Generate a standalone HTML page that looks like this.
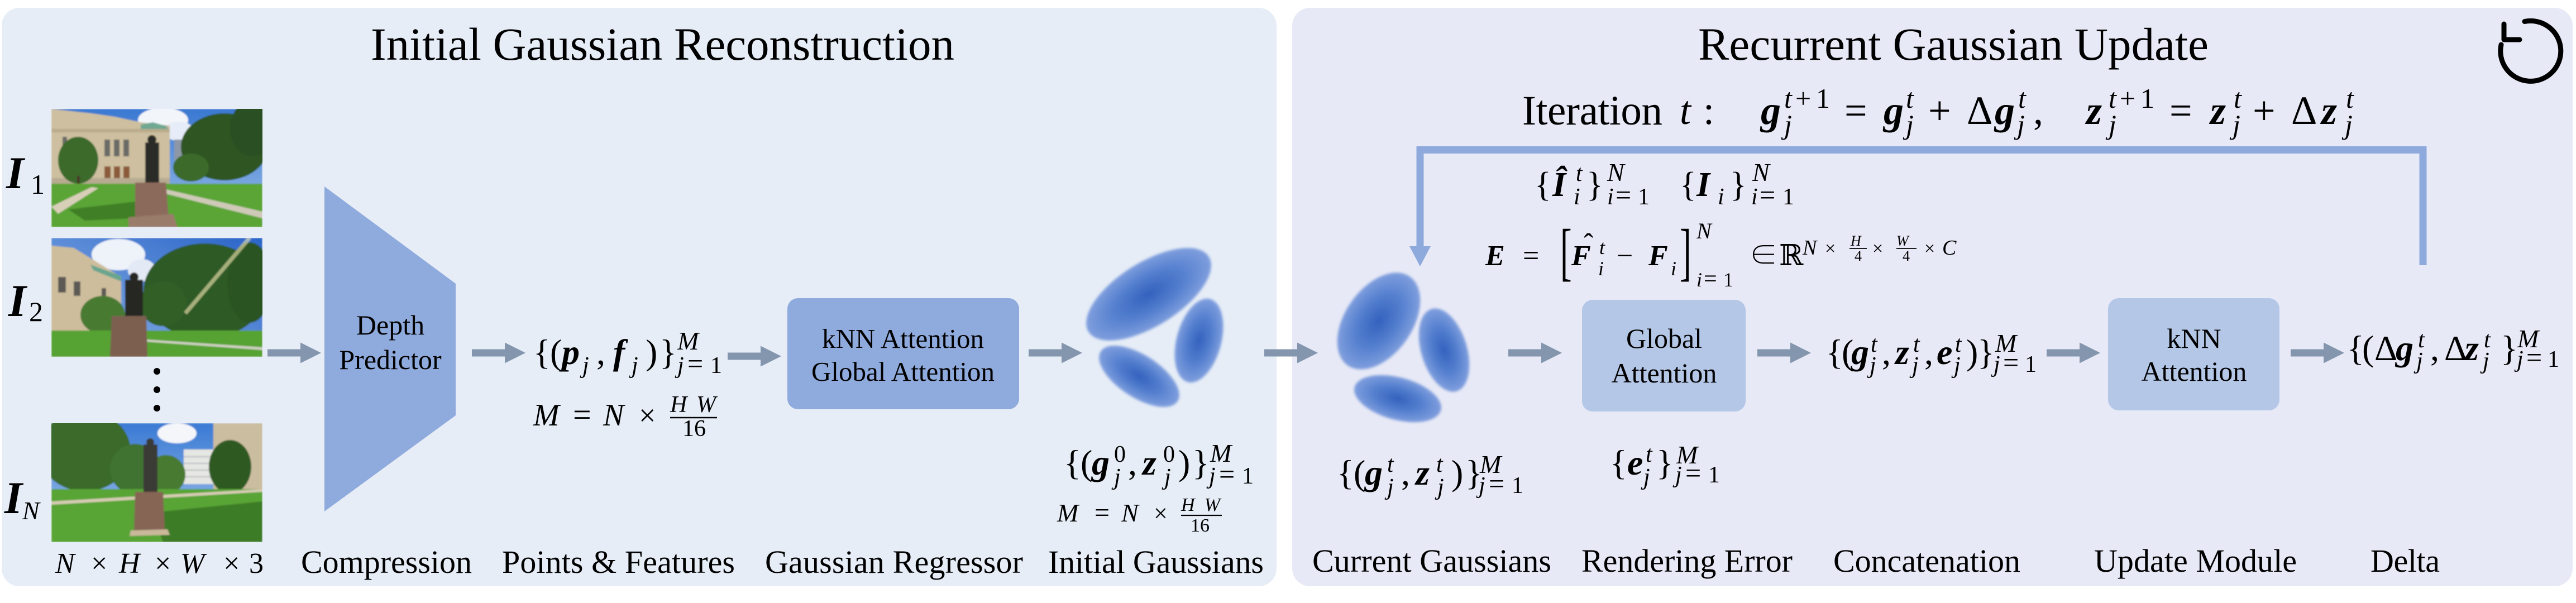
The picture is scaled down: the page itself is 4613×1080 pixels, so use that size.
<!DOCTYPE html>
<html><head><meta charset="utf-8"><style>
html,body{margin:0;padding:0;background:#fff;}
svg{display:block;}
svg text{font-family:"Liberation Serif","Noto Serif CJK SC","DejaVu Serif","Times New Roman",serif;fill:#000;}
.bi{font-weight:bold;font-style:italic;}
.it{font-style:italic;}
</style></head><body>
<svg width="4613" height="1080" viewBox="0 0 4613 1080" xmlns="http://www.w3.org/2000/svg" font-family="'Liberation Serif', 'Noto Serif CJK SC', 'DejaVu Serif', serif">
<defs>
<radialGradient id="gb"><stop offset="0" stop-color="#3361bd"/><stop offset="0.55" stop-color="#5580cf"/><stop offset="1" stop-color="#7f9edd"/></radialGradient>
<filter id="soft" x="-10%" y="-10%" width="120%" height="120%"><feGaussianBlur stdDeviation="2.5"/></filter>
<filter id="ph" x="0" y="0" width="100%" height="100%"><feGaussianBlur stdDeviation="1.2"/></filter>
<linearGradient id="sky1" x1="0" y1="0" x2="0" y2="1"><stop offset="0" stop-color="#3a78d2"/><stop offset="1" stop-color="#9cc0ea"/></linearGradient>
<linearGradient id="sky2" x1="1" y1="0" x2="0" y2="1"><stop offset="0" stop-color="#2a64c8"/><stop offset="1" stop-color="#8fb6e8"/></linearGradient>
<linearGradient id="sky3" x1="0" y1="0" x2="0" y2="1"><stop offset="0" stop-color="#3a7ad4"/><stop offset="1" stop-color="#a8c8ee"/></linearGradient>
<path id="ar" d="M0,-6.5 H59 V-18.5 L96,0 L59,18.5 V6.5 H0 Z" fill="#8496ae"/>
</defs>
<rect width="4613" height="1080" fill="#fff"/>
<rect x="3" y="14" width="2283" height="1036" rx="32" fill="#e6edf7"/>
<rect x="2314" y="14" width="2293" height="1036" rx="32" fill="#e7e9f6"/>

<!-- Titles -->
<text x="664" y="107" font-size="83" textLength="1045" lengthAdjust="spacing">Initial Gaussian Reconstruction</text>
<text x="3041" y="107" font-size="83" textLength="914" lengthAdjust="spacing">Recurrent Gaussian Update</text>

<!-- refresh icon -->
<g stroke="#000" stroke-width="9" fill="none" stroke-linecap="round" stroke-linejoin="round">
<path d="M4521 38.5 A54 54 0 1 1 4479 80"/>
<polyline points="4484,43 4484,71 4512,71"/>
</g>

<!-- Photos -->
<svg x="92" y="195" width="378" height="212" viewBox="0 0 378 212">
<g filter="url(#ph)">
<rect width="378" height="212" fill="url(#sky1)"/>
<ellipse cx="200" cy="20" rx="45" ry="22" fill="#f2f5fa"/>
<ellipse cx="228" cy="40" rx="28" ry="17" fill="#e6edf8"/>
<polygon points="0,0 72,8 113,14 160,24 212,30 212,140 0,140" fill="#cdbf9f"/>
<polygon points="160,28 182,24 206,31 212,40 160,40" fill="#6fa892"/>
<rect x="0" y="36" width="212" height="6" fill="#b9ab8c"/>
<g fill="#6b6a66"><rect x="20" y="50" width="8" height="16"/><rect x="95" y="55" width="10" height="30"/><rect x="112" y="55" width="10" height="30"/><rect x="129" y="55" width="10" height="30"/><rect x="185" y="60" width="8" height="18"/></g>
<g fill="#8a5a3a"><rect x="95" y="103" width="11" height="22"/><rect x="112" y="103" width="11" height="22"/><rect x="129" y="103" width="11" height="22"/></g>
<rect x="0" y="124" width="212" height="14" fill="#b7ab92"/>
<rect x="220" y="55" width="32" height="38" fill="#8d97a6"/>
<ellipse cx="310" cy="68" rx="78" ry="60" fill="#2d5522"/>
<ellipse cx="360" cy="35" rx="40" ry="50" fill="#2a5020"/>
<ellipse cx="250" cy="105" rx="32" ry="25" fill="#3b6a2a"/>
<ellipse cx="48" cy="92" rx="36" ry="42" fill="#3b6a2b"/>
<rect x="46" y="120" width="5" height="20" fill="#4a3b2a"/>
<rect x="0" y="134" width="378" height="78" fill="#5aa534"/>
<polygon points="30,180 160,165 170,195 60,200" fill="#3f7f27"/>
<polygon points="0,175 72,140 84,142 12,188" fill="#d8cfb8"/>
<polygon points="205,144 378,184 378,196 205,152" fill="#cfcab8"/>
<rect x="168" y="60" width="25" height="72" fill="#2a2a28"/>
<circle cx="180" cy="55" r="8" fill="#2a2a28"/>
<polygon points="150,132 205,132 210,192 150,196" fill="#8b6b5b"/>
<polygon points="138,194 218,188 226,212 138,212" fill="#9a7c6a"/>
</g>
</svg>

<svg x="92" y="426" width="378" height="213" viewBox="0 0 378 213">
<g filter="url(#ph)">
<rect width="378" height="213" fill="url(#sky2)"/>
<ellipse cx="120" cy="30" rx="48" ry="28" fill="#eef2f9"/>
<ellipse cx="162" cy="58" rx="25" ry="20" fill="#e3eaf6"/>
<polygon points="0,14 40,18 125,70 125,170 0,170" fill="#cdbd9c"/>
<polygon points="70,48 125,68 125,78 75,58" fill="#6aa58e"/>
<g fill="#5d5a55"><rect x="12" y="70" width="14" height="28"/><rect x="40" y="78" width="12" height="26"/><rect x="90" y="90" width="8" height="14"/></g>
<ellipse cx="275" cy="95" rx="110" ry="85" fill="#2f5a25"/>
<ellipse cx="200" cy="118" rx="42" ry="40" fill="#335f27"/>
<ellipse cx="355" cy="80" rx="40" ry="72" fill="#2c5422"/>
<line x1="355" y1="0" x2="240" y2="135" stroke="#f5eab5" stroke-width="7" opacity="0.6"/>
<ellipse cx="92" cy="138" rx="40" ry="34" fill="#4a7a33"/>
<rect x="0" y="166" width="378" height="47" fill="#57a232"/>
<polygon points="170,182 378,196 378,201 170,186" fill="#cdd0c0"/>
<rect x="132" y="75" width="32" height="68" fill="#262624"/>
<circle cx="148" cy="70" r="8" fill="#262624"/>
<polygon points="108,140 170,140 172,213 105,213" fill="#7c5e50"/>
</g>
</svg>

<svg x="92" y="758" width="378" height="213" viewBox="0 0 378 213">
<g filter="url(#ph)">
<rect width="378" height="213" fill="url(#sky3)"/>
<ellipse cx="225" cy="18" rx="35" ry="18" fill="#f4f6fa"/>
<rect x="290" y="0" width="88" height="130" fill="#cbbd9f"/>
<rect x="237" y="47" width="53" height="62" fill="#e6e6e2"/>
<g stroke="#b8bcc2" stroke-width="2"><line x1="237" y1="60" x2="290" y2="60"/><line x1="237" y1="72" x2="290" y2="72"/><line x1="237" y1="84" x2="290" y2="84"/><line x1="237" y1="96" x2="290" y2="96"/></g>
<ellipse cx="60" cy="50" rx="82" ry="72" fill="#3a6a2a"/>
<ellipse cx="150" cy="82" rx="45" ry="45" fill="#3f7230"/>
<ellipse cx="205" cy="92" rx="35" ry="35" fill="#4a7a33"/>
<ellipse cx="320" cy="78" rx="38" ry="48" fill="#2f5a24"/>
<rect x="0" y="118" width="378" height="95" fill="#59a434"/>
<polygon points="180,160 378,140 378,213 200,213" fill="#3e7c26"/>
<polygon points="0,140 378,118 378,123 0,146" fill="#d6ccb2"/>
<rect x="165" y="38" width="25" height="88" fill="#3a3a36"/>
<circle cx="177" cy="34" r="7" fill="#3a3a36"/>
<polygon points="150,123 200,123 203,192 148,194" fill="#866555"/>
<polygon points="142,192 208,190 212,200 140,202" fill="#c9b89a"/>
</g>
</svg>

<!-- dots -->
<circle cx="281" cy="665" r="6" fill="#000"/>
<circle cx="281" cy="698" r="6" fill="#000"/>
<circle cx="281" cy="731" r="6" fill="#000"/>

<!-- I labels -->
<text x="11" y="337" font-size="82" class="bi">I</text><text x="55" y="347" font-size="50">1</text>
<text x="15" y="566" font-size="82" class="bi">I</text><text x="52" y="575" font-size="50">2</text>
<text x="8" y="919" font-size="82" class="bi">I</text><text x="40" y="930" font-size="46" class="it">N</text>

<!-- Trapezoid -->
<polygon points="581,334 816,508 816,744 581,916" fill="#8faadc"/>
<text x="699" y="599" font-size="50" text-anchor="middle">Depth</text>
<text x="699" y="661" font-size="50" text-anchor="middle">Predictor</text>

<!-- Regressor box -->
<rect x="1410" y="534" width="415" height="199" rx="19" fill="#8faadc"/>
<text x="1617" y="623" font-size="49" text-anchor="middle">kNN Attention</text>
<text x="1617" y="682" font-size="49" text-anchor="middle">Global Attention</text>

<!-- right boxes -->
<rect x="2833" y="537" width="293" height="200" rx="19" fill="#b4c7e7"/>
<text x="2980" y="623" font-size="50" text-anchor="middle">Global</text>
<text x="2980" y="685" font-size="50" text-anchor="middle">Attention</text>
<rect x="3775" y="534" width="307" height="201" rx="19" fill="#b4c7e7"/>
<text x="3929" y="623" font-size="50" text-anchor="middle">kNN</text>
<text x="3929" y="682" font-size="50" text-anchor="middle">Attention</text>

<!-- arrows -->
<use href="#ar" transform="translate(479,632)"/>
<use href="#ar" transform="translate(845,632)"/>
<use href="#ar" transform="translate(1303,638)"/>
<use href="#ar" transform="translate(1842,632)"/>
<use href="#ar" transform="translate(2264,632)"/>
<use href="#ar" transform="translate(2701,632)"/>
<use href="#ar" transform="translate(3147,632)"/>
<use href="#ar" transform="translate(3665,632)"/>
<use href="#ar" transform="translate(4102,632)"/>

<!-- feedback loop -->
<polyline points="4339,475 4339,268.5 2543,268.5 2543,446" stroke="#8eaadc" stroke-width="13" fill="none"/>
<polygon points="2524,441 2562,441 2543,477" fill="#8eaadc"/>

<!-- Gaussians -->
<g filter="url(#soft)">
<ellipse cx="2057" cy="527" rx="127" ry="57" transform="rotate(-32 2057 527)" fill="url(#gb)"/>
<ellipse cx="2147" cy="610" rx="40" ry="77" transform="rotate(15 2147 610)" fill="url(#gb)"/>
<ellipse cx="2040" cy="674" rx="82" ry="38" transform="rotate(33 2040 674)" fill="url(#gb)"/>
<ellipse cx="2469" cy="575" rx="97" ry="60" transform="rotate(-55 2469 575)" fill="url(#gb)"/>
<ellipse cx="2586" cy="627" rx="41" ry="77" transform="rotate(-17 2586 627)" fill="url(#gb)"/>
<ellipse cx="2503" cy="714" rx="80" ry="38" transform="rotate(15 2503 714)" fill="url(#gb)"/>
</g>

<!-- Formula A: points -->
<g font-size="64">
<text x="955" y="652">{</text><text x="985" y="652">(</text>
<text x="1006" y="652" class="bi">p</text><text x="1068" y="652">,</text>
<text x="1098" y="652" class="bi">f</text><text x="1156" y="652">)</text><text x="1181" y="652">}</text>
</g>
<g font-size="42">
<text x="1043" y="668" class="it">j</text><text x="1131" y="668" class="it">j</text>
<text x="1213" y="626" class="it" font-size="46">M</text>
<text x="1213" y="668" class="it">j</text><text x="1231" y="668" font-size="50">=</text><text x="1272" y="668">1</text>
</g>
<text x="955" y="762" font-size="56" class="it">M</text>
<text x="1026" y="762" font-size="58">=</text>
<text x="1080" y="762" font-size="56" class="it">N</text>
<text x="1144" y="762" font-size="54">×</text>
<text x="1200" y="738" font-size="42" class="it" textLength="82" lengthAdjust="spacing">HW</text>
<line x1="1200" y1="748" x2="1284" y2="748" stroke="#000" stroke-width="2.5"/>
<text x="1222" y="781" font-size="42">16</text>

<!-- Formula B: initial gaussians -->
<g font-size="64">
<text x="1905" y="850">{</text><text x="1935" y="850">(</text>
<text x="1955" y="850" class="bi">g</text><text x="2020" y="850">,</text>
<text x="2046" y="850" class="bi">z</text><text x="2110" y="850">)</text><text x="2135" y="850">}</text>
</g>
<g font-size="42">
<text x="1995" y="827">0</text><text x="1995" y="868" class="it">j</text>
<text x="2083" y="827">0</text><text x="2085" y="868" class="it">j</text>
<text x="2167" y="827" class="it" font-size="46">M</text>
<text x="2165" y="866" class="it">j</text><text x="2183" y="866" font-size="50">=</text><text x="2224" y="866">1</text>
</g>
<text x="1893" y="934" font-size="46" class="it">M</text>
<text x="1960" y="934" font-size="48">=</text>
<text x="2008" y="934" font-size="46" class="it">N</text>
<text x="2066" y="934" font-size="44">×</text>
<text x="2115" y="915" font-size="34" class="it" textLength="70" lengthAdjust="spacing">HW</text>
<line x1="2115" y1="923" x2="2188" y2="923" stroke="#000" stroke-width="2.2"/>
<text x="2132" y="952" font-size="34">16</text>

<!-- Formula C: current gaussians -->
<g font-size="64">
<text x="2394" y="868">{</text><text x="2424" y="868">(</text>
<text x="2444" y="868" class="bi">g</text><text x="2509" y="868">,</text>
<text x="2535" y="868" class="bi">z</text><text x="2599" y="868">)</text><text x="2624" y="868">}</text>
</g>
<g font-size="42">
<text x="2484" y="845" class="it">t</text><text x="2484" y="886" class="it">j</text>
<text x="2572" y="845" class="it">t</text><text x="2574" y="886" class="it">j</text>
<text x="2650" y="847" class="it" font-size="46">M</text>
<text x="2648" y="883" class="it">j</text><text x="2666" y="883" font-size="50">=</text><text x="2707" y="883">1</text>
</g>

<!-- Formula D: e -->
<g font-size="64">
<text x="2883" y="850">{</text><text x="2914" y="850" class="bi">e</text><text x="2966" y="850">}</text>
</g>
<g font-size="42">
<text x="2947" y="827" class="it">t</text><text x="2943" y="868" class="it">j</text>
<text x="3002" y="830" class="it" font-size="46">M</text>
<text x="3000" y="864" class="it">j</text><text x="3018" y="864" font-size="50">=</text><text x="3059" y="864">1</text>
</g>

<!-- Formula E: concat -->
<g font-size="64">
<text x="3270" y="652">{</text><text x="3298" y="652">(</text>
<text x="3315" y="652" class="bi">g</text><text x="3370" y="652">,</text>
<text x="3394" y="652" class="bi">z</text><text x="3446" y="652">,</text>
<text x="3468" y="652" class="bi">e</text><text x="3521" y="652">)</text><text x="3541" y="652">}</text>
</g>
<g font-size="42">
<text x="3350" y="630" class="it">t</text><text x="3348" y="668" class="it">j</text>
<text x="3426" y="630" class="it">t</text><text x="3424" y="668" class="it">j</text>
<text x="3501" y="630" class="it">t</text><text x="3499" y="668" class="it">j</text>
<text x="3573" y="630" class="it" font-size="46">M</text>
<text x="3570" y="666" class="it">j</text><text x="3587" y="666" font-size="50">=</text><text x="3626" y="666">1</text>
</g>

<!-- Formula F: delta -->
<g font-size="64">
<text x="4203" y="645">{</text><text x="4230" y="645">(</text>
<text x="4252" y="645">Δ</text><text x="4290" y="645" class="bi">g</text><text x="4352" y="645">,</text>
<text x="4377" y="645">Δ</text><text x="4414" y="645" class="bi">z</text><text x="4478" y="645">}</text>
</g>
<g font-size="42">
<text x="4330" y="622" class="it">t</text><text x="4327" y="660" class="it">j</text>
<text x="4448" y="622" class="it">t</text><text x="4446" y="660" class="it">j</text>
<text x="4508" y="622" class="it" font-size="46">M</text>
<text x="4507" y="657" class="it">j</text><text x="4524" y="657" font-size="50">=</text><text x="4562" y="657">1</text>
</g>

<!-- Formula G: iteration -->
<text x="2726" y="223" font-size="75" textLength="251" lengthAdjust="spacing">Iteration</text>
<g font-size="72">
<text x="3008" y="222" class="it">t</text><text x="3050" y="222">:</text>
<text x="3153" y="222" class="bi">g</text><text x="3303" y="222">=</text>
<text x="3373" y="222" class="bi">g</text><text x="3453" y="222">+</text>
<text x="3522" y="222">Δ</text><text x="3572" y="222" class="bi">g</text><text x="3641" y="222">,</text>
<text x="3736" y="222" class="bi">z</text><text x="3885" y="222">=</text>
<text x="3958" y="222" class="bi">z</text><text x="4034" y="222">+</text>
<text x="4103" y="222">Δ</text><text x="4157" y="222" class="bi">z</text>
</g>
<g font-size="50">
<text x="3195" y="193" class="it">t</text><text x="3215" y="193">+</text><text x="3252" y="193">1</text>
<text x="3413" y="193" class="it">t</text>
<text x="3614" y="193" class="it">t</text>
<text x="3776" y="193" class="it">t</text><text x="3796" y="193">+</text><text x="3833" y="193">1</text>
<text x="4000" y="193" class="it">t</text>
<text x="4201" y="193" class="it">t</text>
<text x="3195" y="240" class="it">j</text><text x="3413" y="240" class="it">j</text>
<text x="3612" y="240" class="it">j</text><text x="3776" y="240" class="it">j</text>
<text x="3998" y="240" class="it">j</text><text x="4199" y="240" class="it">j</text>
</g>

<!-- Formula H -->
<g font-size="62">
<text x="2748" y="351">{</text><text x="2780" y="351" class="bi">Î</text><text x="2841" y="351">}</text>
<text x="3008" y="351">{</text><text x="3038" y="351" class="bi">I</text><text x="3098" y="351">}</text>
</g>
<g font-size="42">
<text x="2822" y="324" class="it">t</text><text x="2818" y="366" class="it">i</text>
<text x="2878" y="324" class="it" font-size="46">N</text>
<text x="2878" y="366" class="it">i</text><text x="2893" y="366" font-size="50">=</text><text x="2933" y="366">1</text>
<text x="3076" y="366" class="it">i</text>
<text x="3138" y="324" class="it" font-size="46">N</text>
<text x="3136" y="366" class="it">i</text><text x="3151" y="366" font-size="50">=</text><text x="3192" y="366">1</text>
</g>

<!-- Formula I: E -->
<g font-size="52">
<text x="2660" y="475" class="bi">E</text>
<text x="2727" y="475">=</text>
<text x="2814" y="475" class="bi">F</text>
<text x="2836" y="454">ˆ</text>
<text x="2895" y="475">−</text>
<text x="2952" y="475" class="bi">F</text>
<text x="3132" y="475">∈</text>
<text x="3186" y="475">ℝ</text>
</g>
<text transform="translate(2794,489) scale(1,1.85)" font-size="62">[</text>
<text transform="translate(3008,489) scale(1,1.85)" font-size="62">]</text>
<g font-size="36">
<text x="2864" y="455" class="it">t</text><text x="2862" y="493" class="it">i</text>
<text x="2992" y="493" class="it">i</text>
<text x="3038" y="427" class="it" font-size="40">N</text>
<text x="3038" y="513" class="it">i</text><text x="3051" y="513" font-size="42">=</text><text x="3086" y="513">1</text>
</g>
<g font-size="38">
<text x="3228" y="456" class="it">N</text>
<text x="3268" y="456" font-size="34">×</text>
<text x="3314" y="440" font-size="26" class="it">H</text>
<line x1="3312" y1="445" x2="3343" y2="445" stroke="#000" stroke-width="1.8"/>
<text x="3321" y="467" font-size="26">4</text>
<text x="3353" y="456" font-size="34">×</text>
<text x="3396" y="440" font-size="26" class="it">W</text>
<line x1="3396" y1="445" x2="3432" y2="445" stroke="#000" stroke-width="1.8"/>
<text x="3407" y="467" font-size="26">4</text>
<text x="3446" y="456" font-size="34">×</text>
<text x="3478" y="456" class="it">C</text>
</g>

<!-- bottom captions -->
<g font-size="52">
<text x="99" y="1026" class="it">N</text>
<text x="163" y="1026">×</text>
<text x="213" y="1026" class="it">H</text>
<text x="277" y="1026">×</text>
<text x="323" y="1026" class="it">W</text>
<text x="400" y="1026">×</text>
<text x="446" y="1026">3</text>
</g>
<g font-size="58">
<text x="539" y="1026" textLength="306" lengthAdjust="spacing">Compression</text>
<text x="899" y="1026" textLength="417" lengthAdjust="spacing">Points &amp; Features</text>
<text x="1370" y="1026" textLength="462" lengthAdjust="spacing">Gaussian Regressor</text>
<text x="1877" y="1026" textLength="386" lengthAdjust="spacing">Initial Gaussians</text>
<text x="2350" y="1024" textLength="428" lengthAdjust="spacing">Current Gaussians</text>
<text x="2832" y="1024" textLength="378" lengthAdjust="spacing">Rendering Error</text>
<text x="3283" y="1024" textLength="335" lengthAdjust="spacing">Concatenation</text>
<text x="3750" y="1024" textLength="363" lengthAdjust="spacing">Update Module</text>
<text x="4245" y="1024" textLength="124" lengthAdjust="spacing">Delta</text>
</g>
</svg>
</body></html>
